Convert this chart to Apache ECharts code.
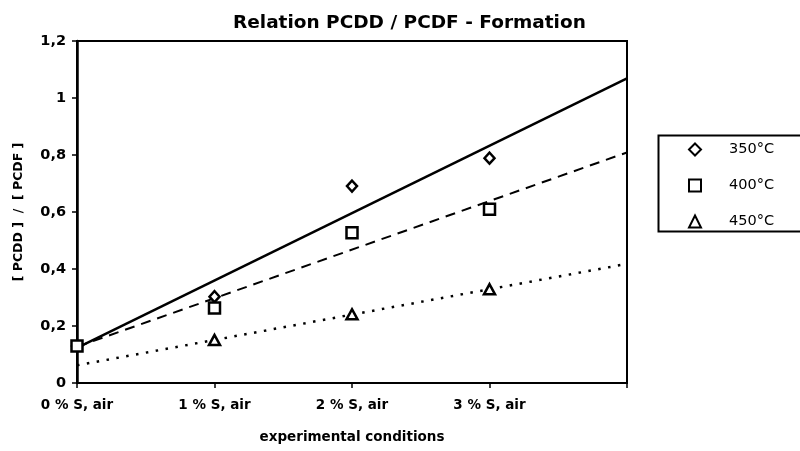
<!DOCTYPE html>
<html>
<head>
<meta charset="utf-8">
<script src="https://cdn.jsdelivr.net/npm/echarts@6/dist/echarts.min.js"></script>
<style>html,body{margin:0;padding:0;background:#fff;}#c{width:800px;height:451px;}</style>
</head>
<body>
<div id="c"></div>
<script>
// Category labels along the x axis (positions 0..3, axis runs to 4)
const categories = ['0 % S, air', '1 % S, air', '2 % S, air', '3 % S, air'];
const yTicks = [0, 0.2, 0.4, 0.6, 0.8, 1, 1.2];

// Measured points (x = category index)
const s350 = [[0, 0.13], [1, 0.303], [2, 0.691], [3, 0.789]];
const s400 = [[0, 0.13], [1, 0.263], [2, 0.527], [3, 0.61]];
const s450 = [[1, 0.151], [2, 0.241], [3, 0.329]];

// Trend line end points
const trend350 = [[0, 0.123], [4, 1.069]];
const trend400 = [[0, 0.127], [4, 0.809]];
const trend450 = [[0, 0.062], [4, 0.418]];

const names = ['350°C', '400°C', '450°C'];

const chart = echarts.init(document.getElementById('c'), null, {renderer: 'canvas'});
const FONT = 'DejaVu Sans';
const markerStyle = {color: '#fff', borderColor: '#000', borderWidth: 2.5, opacity: 1};

chart.setOption({
  animation: false,
  backgroundColor: '#fff',
  title: {
    text: 'Relation PCDD / PCDF - Formation',
    left: 228, top: 9,
    textStyle: {fontFamily: FONT, fontWeight: 'bold', fontSize: 18.5, color: '#000'}
  },
  grid: {left: 77, right: 173, top: 41, bottom: 68, show: true, borderColor: '#000', borderWidth: 2, backgroundColor: 'transparent'},
  legend: {
    orient: 'vertical', left: 683, top: 137,
    itemWidth: 12, itemHeight: 12, itemGap: 21,
    data: names,
    textStyle: {fontFamily: FONT, fontSize: 14.5, color: '#000', padding: [0, 0, 0, 23]}
  },
  graphic: [{
    type: 'rect', left: 656, top: 133, silent: true,
    shape: {width: 160, height: 96},
    style: {fill: 'none', stroke: '#000', lineWidth: 2}
  }],
  xAxis: {
    type: 'value', min: 0, max: 4, interval: 1,
    name: 'experimental conditions', nameLocation: 'middle', nameGap: 47,
    nameTextStyle: {fontFamily: FONT, fontWeight: 'bold', fontSize: 13.5, color: '#000'},
    axisLine: {lineStyle: {color: '#000', width: 2}},
    axisTick: {lineStyle: {color: '#000', width: 1.5}, length: 5},
    splitLine: {show: false},
    axisLabel: {
      margin: 15, fontFamily: FONT, fontWeight: 'bold', fontSize: 13.5, color: '#000',
      formatter: v => (categories[Math.round(v)] !== undefined ? categories[Math.round(v)] : '')
    }
  },
  yAxis: {
    type: 'value', min: yTicks[0], max: yTicks[yTicks.length - 1], interval: 0.2,
    name: '[ PCDD ]  /  [ PCDF ]', nameLocation: 'middle', nameGap: 52,
    nameTextStyle: {fontFamily: FONT, fontWeight: 'bold', fontSize: 12.5, color: '#000'},
    axisLine: {show: true, lineStyle: {color: '#000', width: 2.5}},
    axisTick: {show: true, lineStyle: {color: '#000', width: 1.5}, length: 5},
    splitLine: {show: false},
    axisLabel: {
      margin: 11, fontFamily: FONT, fontWeight: 'bold', fontSize: 14.5, color: '#000',
      formatter: v => String(Math.round(v * 10) / 10).replace('.', ',')
    }
  },
  series: [
    {type: 'line', data: trend350, symbol: 'none', silent: true, z: 1,
     lineStyle: {color: '#000', width: 2.5, type: 'solid'}},
    {type: 'line', data: trend400, symbol: 'none', silent: true, z: 1,
     lineStyle: {color: '#000', width: 2, type: [10, 7]}},
    {type: 'line', data: trend450, symbol: 'none', silent: true, z: 1,
     lineStyle: {color: '#000', width: 2.5, type: [2.5, 7.5]}},
    {name: names[0], type: 'scatter', data: s350, symbol: 'diamond', symbolSize: [10, 11], z: 3, itemStyle: markerStyle},
    {name: names[1], type: 'scatter', data: s400, symbol: 'rect', symbolSize: 11, z: 4, itemStyle: markerStyle},
    {name: names[2], type: 'scatter', data: s450, symbol: 'triangle', symbolSize: [11, 10], z: 3, itemStyle: markerStyle}
  ]
});
</script>
</body>
</html>
